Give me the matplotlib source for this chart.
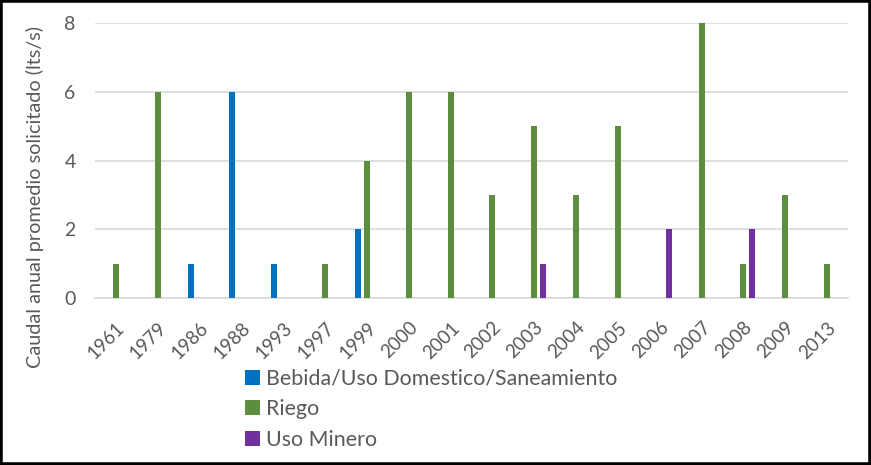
import matplotlib
matplotlib.use("Agg")
import matplotlib.pyplot as plt
from matplotlib.patches import Rectangle
import numpy as np

years = ["1961", "1979", "1986", "1988", "1993", "1997", "1999", "2000", "2001",
         "2002", "2003", "2004", "2005", "2006", "2007", "2008", "2009", "2013"]
bebida = [0, 0, 1, 6, 1, 0, 2, 0, 0, 0, 0, 0, 0, 0, 0, 0, 0, 0]
riego = [1, 6, 0, 0, 0, 1, 4, 6, 6, 3, 5, 3, 5, 0, 8, 1, 3, 1]
minero = [0, 0, 0, 0, 0, 0, 0, 0, 0, 0, 1, 0, 0, 2, 0, 2, 0, 0]
series_names = ["Bebida/Uso Domestico/Saneamiento", "Riego", "Uso Minero"]
colors = ["#0070C0", "#5B8F3F", "#7030A0"]

plt.rcParams['font.family'] = ['Lato', 'DejaVu Sans']
txt = "#595959"

fig = plt.figure(figsize=(8.71, 4.65), dpi=100)
ax = fig.add_axes([95/871, 1-298/465, (848-95)/871, (298-23)/465])

x = np.arange(len(years))
w = 0.145
off = 0.215
for i, (vals, name, c) in enumerate(zip([bebida, riego, minero], series_names, colors)):
    ax.bar(x + (i-1)*off, vals, width=w, color=c, label=name, zorder=3)

ax.set_xlim(-0.5, len(years)-0.5)
ax.set_ylim(0, 8)
ax.set_yticks([0, 2, 4, 6, 8])
ax.yaxis.grid(True, color="#D9D9D9", linewidth=1.2, zorder=0)
ax.set_xticks(x)
ax.set_xticklabels(years, rotation=45, ha="right", rotation_mode="anchor", fontsize=13.5, color=txt)
ax.tick_params(axis='y', labelsize=14, labelcolor=txt, length=0, pad=14)
ax.tick_params(axis='x', length=0, pad=15)
for s in ["top", "right", "left"]:
    ax.spines[s].set_visible(False)
ax.spines["bottom"].set_color("#D9D9D9")
ax.spines["bottom"].set_linewidth(1.2)

fig.text(35/871, 1-197/465, "Caudal anual promedio solicitado (lts/s)", rotation=90,
         ha="center", va="center", fontsize=14.3, color=txt)

leg = ax.legend(loc="upper left", bbox_to_anchor=(236/871, 1-360/465), bbox_transform=fig.transFigure,
                frameon=False, fontsize=15.4, handlelength=0.7, handleheight=0.7,
                handletextpad=0.3, labelspacing=0.5, borderaxespad=0)
for t in leg.get_texts():
    t.set_color(txt)

fig.patches.append(Rectangle((0, 0), 1, 1, transform=fig.transFigure, fill=False,
                             edgecolor="black", linewidth=4, zorder=10))

fig.savefig("out.png", dpi=100)
